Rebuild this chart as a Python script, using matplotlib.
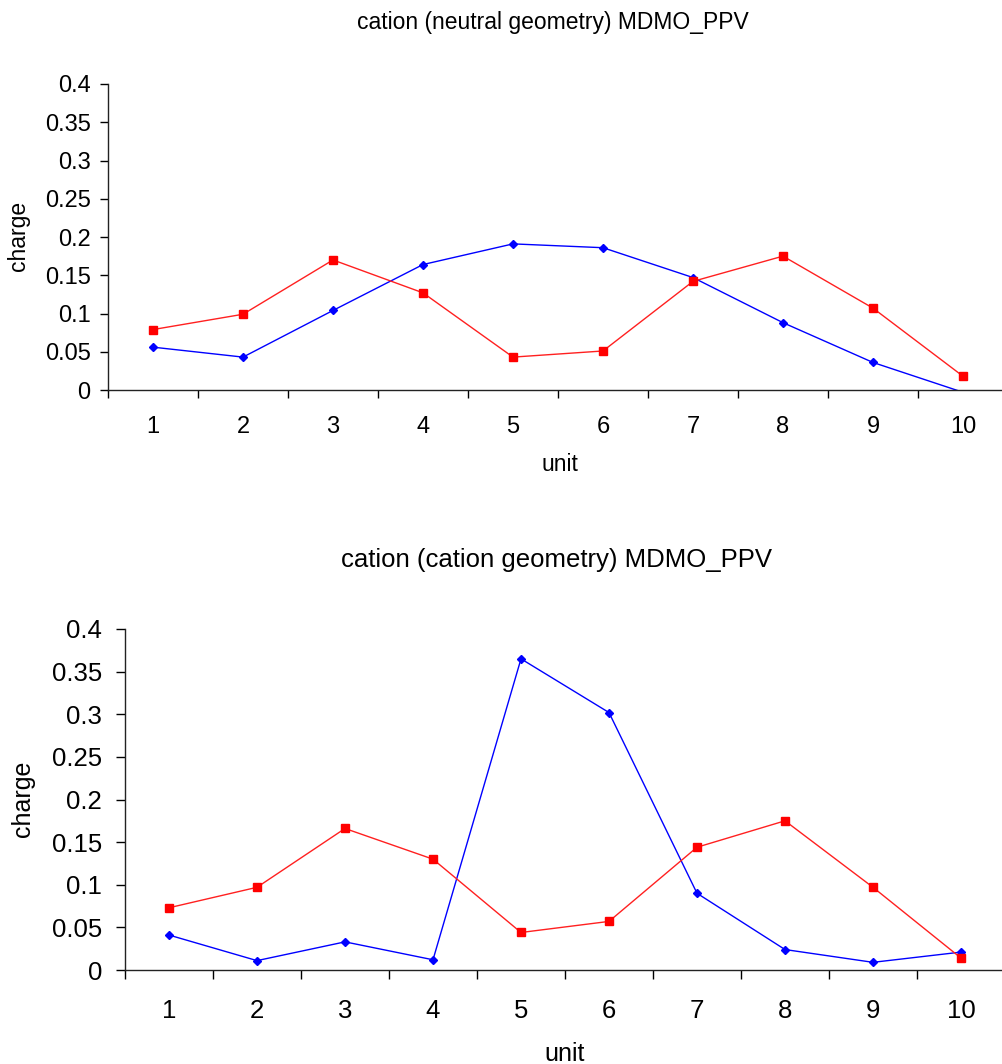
import numpy as np
import matplotlib
matplotlib.use("Agg")
import matplotlib.pyplot as plt

plt.rcParams["font.family"] = ["Liberation Sans", "DejaVu Sans"]

units = np.arange(1, 11)

# top chart: cation charge at neutral geometry
neutral_blue = [0.056, 0.043, 0.104, 0.164, 0.191, 0.186, 0.147, 0.088, 0.036, -0.003]
neutral_red = [0.079, 0.099, 0.170, 0.127, 0.043, 0.051, 0.142, 0.175, 0.107, 0.018]

# bottom chart: cation charge at cation geometry
cation_blue = [0.041, 0.011, 0.033, 0.012, 0.365, 0.302, 0.090, 0.024, 0.009, 0.021]
cation_red = [0.073, 0.097, 0.166, 0.130, 0.044, 0.057, 0.144, 0.175, 0.097, 0.014]

yticks = [0, 0.05, 0.1, 0.15, 0.2, 0.25, 0.3, 0.35, 0.4]
ytick_labels = ["0", "0.05", "0.1", "0.15", "0.2", "0.25", "0.3", "0.35", "0.4"]

W, H = 1003, 1064
fig = plt.figure(figsize=(W / 100, H / 100), dpi=100)


def draw(ax, blue, red, fs, pad_x, pad_y, ticklen):
    blue = np.array(blue)
    red = np.array(red)
    ax.plot(units, blue, color="#0000ff", lw=1.0)
    ok = blue >= 0
    ax.plot(units[ok], blue[ok], ls="none", marker="D", ms=4.5, color="#0000ff")
    ax.plot(units, red, color="#ff2020", lw=1.0, marker="s", ms=5.5,
            markerfacecolor="#ff0000", markeredgecolor="#ff0000")
    ax.set_xlim(0.5, 10.5)
    ax.set_ylim(0, 0.4)
    ax.set_yticks(yticks)
    ax.set_yticklabels(ytick_labels)
    ax.set_xticks(np.arange(0.5, 11, 1))
    ax.set_xticklabels([])
    ax.set_xticks(units, minor=True)
    ax.set_xticklabels([str(u) for u in units], minor=True)
    ax.tick_params(axis="x", which="major", direction="out", length=ticklen, width=1.0)
    ax.tick_params(axis="x", which="minor", length=0, pad=pad_x, labelsize=fs)
    ax.tick_params(axis="y", direction="out", length=ticklen, width=1.0, pad=pad_y, labelsize=fs)
    for s in ["top", "right"]:
        ax.spines[s].set_visible(False)
    for s in ["left", "bottom"]:
        ax.spines[s].set_linewidth(1.0)
        ax.spines[s].set_color("#222222")


# top axes
ax1 = fig.add_axes([108 / W, 1 - 390 / H, 900 / W, 306 / H])
draw(ax1, neutral_blue, neutral_red, 17, 19, 7, 5.5)
ax1.set_xlabel("unit", fontsize=16.5)
ax1.xaxis.set_label_coords(560 / W, 1 - 453 / H, transform=fig.transFigure)
ax1.set_ylabel("charge", fontsize=16.5)
ax1.yaxis.set_label_coords(30 / W, 1 - 236 / H, transform=fig.transFigure)
fig.text(553 / W, 1 - 22 / H, "cation (neutral geometry) MDMO_PPV",
         ha="center", va="center", fontsize=16.5)

# bottom axes
ax2 = fig.add_axes([125 / W, 1 - 970 / H, 880 / W, 341 / H])
draw(ax2, cation_blue, cation_red, 18.5, 21, 10, 6.5)
ax2.set_xlabel("unit", fontsize=18)
ax2.xaxis.set_label_coords(565 / W, 1 - 1042 / H, transform=fig.transFigure)
ax2.set_ylabel("charge", fontsize=18)
ax2.yaxis.set_label_coords(35 / W, 1 - 799 / H, transform=fig.transFigure)
fig.text(557 / W, 1 - 560 / H, "cation (cation geometry) MDMO_PPV",
         ha="center", va="center", fontsize=18.5)

fig.savefig("out.png", dpi=100)
